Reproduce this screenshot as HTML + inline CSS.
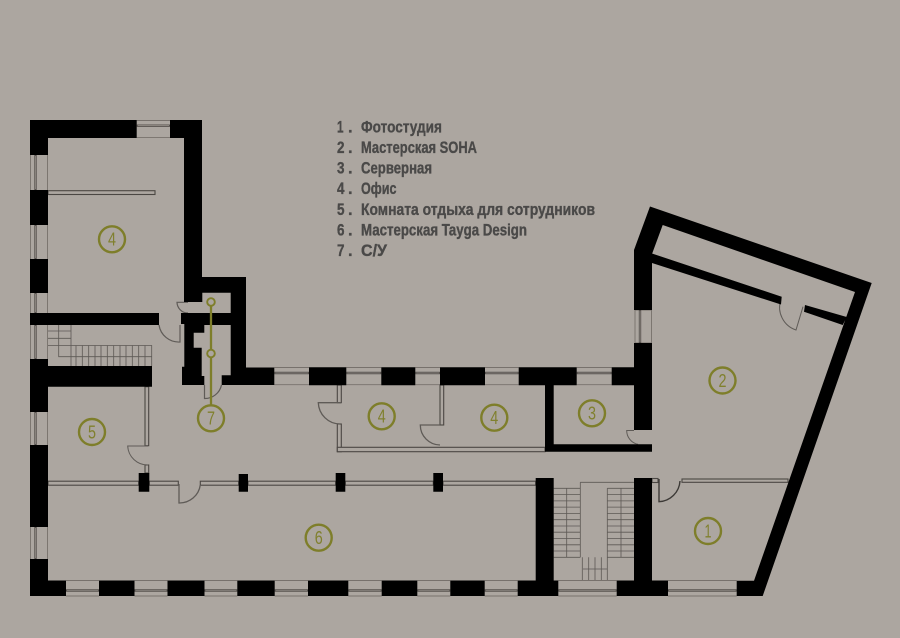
<!DOCTYPE html>
<html><head><meta charset="utf-8"><style>
html,body{margin:0;padding:0;background:#aca6a0;width:900px;height:638px;overflow:hidden}
svg{display:block}
.t{font-family:"Liberation Sans Narrow","Liberation Sans","Noto Sans CJK SC",sans-serif;font-weight:700;font-size:16.5px;fill:#4a4948;stroke:#4a4948;stroke-width:.35}
.n{font-family:"Liberation Sans",sans-serif;font-size:18px;fill:#80802e;text-anchor:middle}
</style></head><body>
<svg width="900" height="638" viewBox="0 0 900 638" xmlns="http://www.w3.org/2000/svg">
<rect width="900" height="638" fill="#aca6a0"/>

<!-- stairs -->
<path fill="none" stroke="#5c5854" stroke-width=".8" d="M48 331H71M48 338.3H71M48 345.5H151.7V366M71 325V366M58.7 325V356.7H151.7M76 345.5V366M82.3 345.5V366M88.7 345.5V366M95 345.5V366M101 345.5V366M107.3 345.5V366M113.7 345.5V366M120 345.5V366M126 345.5V366M132.3 345.5V366M138.7 345.5V366M145 345.5V366
M580.3 482.3H634M580.3 482.3V557.3M553.7 488.3H580.3M553.7 494.6H580.3M553.7 500.9H580.3M553.7 507.1H580.3M553.7 513.4H580.3M553.7 519.7H580.3M553.7 526H580.3M553.7 532.2H580.3M553.7 538.5H580.3M553.7 544.8H580.3M553.7 551H580.3M553.7 557.3H580.3
M607.3 488.3V557.3M607.3 488.3H634M607.3 494.6H634M607.3 500.9H634M607.3 507.1H634M607.3 513.4H634M607.3 519.7H634M607.3 526H634M607.3 532.2H634M607.3 538.5H634M607.3 544.8H634M607.3 551H634M607.3 557.3H634
M566.7 488.3V557.3M621 488.3V557.3M582.3 557.3V580.7M588.7 557.3V580.7M595 557.3V580.7M601.3 557.3V580.7M607.3 557.3V580.7M583 569H607"/>

<!-- windows: frame lines -->
<path fill="none" stroke="#77716c" stroke-width=".9" d="M66 580.5H99M66 596H99M134.5 580.5H167.5M134.5 596H167.5M204.5 580.5H237.3M204.5 596H237.3M274.7 580.5H308M274.7 596H308M348.3 580.5H381.7M348.3 596H381.7M417.3 580.5H450.3M417.3 596H450.3M484.7 580.5H517.7M484.7 596H517.7M558.3 580.5H616.7M558.3 596H616.7M668 580.5H736.7M668 596H736.7
M274.3 367.5H309M274.3 384.7H309M346.3 367.5H381.3M346.3 384.7H381.3M415.3 367.5H440M415.3 384.7H440M485 367.5H518.7M485 384.7H518.7M576.7 367.5H611.7M576.7 384.7H611.7
M136.7 120.5H170M136.7 137.6H170
M30.5 155V190M47.5 155V190M30.5 225V259M47.5 225V259M30.5 293V313M47.5 293V313M30.5 325V359M47.5 325V359M30.5 412V445M47.5 412V445M30.5 527V559M47.5 527V559
M635 310V343M651.5 310V343M635 310H651.5M635 343H651.5"/>
<!-- windows: glass -->
<path fill="none" stroke="#57524e" stroke-width="2.4" d="M66 590.5H99M134.5 590.5H167.5M204.5 590.5H237.3M274.7 590.5H308M348.3 590.5H381.7M417.3 590.5H450.3M484.7 590.5H517.7M558.3 590.5H616.7M668 590.5H736.7
M274.3 373H309M346.3 373H381.3M415.3 373H440M485 373H518.7M576.7 373H611.7M136.7 125.7H170
M35.5 155V190M35.5 225V259M35.5 293V313M35.5 325V359M35.5 412V445M35.5 527V559M640 310V343"/>
<path fill="none" stroke="#a8a29c" stroke-width=".6" d="M67 590.5H98M135.5 590.5H166.5M205.5 590.5H236.3M275.7 590.5H307M349.3 590.5H380.7M418.3 590.5H449.3M485.7 590.5H516.7M559.3 590.5H615.7M669 590.5H735.7
M275.3 373H308M347.3 373H380.3M416.3 373H439M486 373H517.7M577.7 373H610.7M137.7 125.7H169
M35.5 156V189M35.5 226V258M35.5 294V312M35.5 326V358M35.5 413V444M35.5 528V558M640 311V342"/>

<!-- partitions -->
<g fill="#aca6a0" stroke="#4b4743" stroke-width="1.1">
<rect x="48" y="190.7" width="107" height="3.8"/>
<rect x="48" y="481.2" width="90.7" height="4"/>
<rect x="149.3" y="481.2" width="29" height="4"/>
<rect x="200.3" y="481.2" width="38.4" height="4"/>
<rect x="248" y="481.2" width="87.7" height="4"/>
<rect x="345.3" y="481.2" width="88" height="4"/>
<rect x="443" y="481.2" width="92.7" height="4"/>
<rect x="145" y="386.7" width="3.7" height="59"/>
<rect x="145" y="465" width="3.7" height="8"/>
<rect x="337.3" y="385" width="4" height="17.7"/>
<rect x="337.3" y="424" width="4" height="27.7"/>
<rect x="337.3" y="447.3" width="207.7" height="4.4"/>
<rect x="440" y="385" width="3.7" height="40"/>
<rect x="682" y="479" width="106" height="3.3"/>
<rect x="652" y="478.5" width="6" height="4"/>
</g>
<rect x="338" y="448" width="206" height="3" fill="#aca6a0"/>

<!-- doors -->
<g fill="none" stroke="#5f5b57" stroke-width="1">
<path d="M148 446H127.7A20 20 0 0 0 148 465"/>
<path stroke-width="1.3" d="M179 484V503A21 21 0 0 0 200.3 485"/>
<path stroke-width="1.3" d="M341 402.7H318.3A22 22 0 0 0 340 424"/>
<path stroke-width="1.3" d="M440 425H420.3A20 20 0 0 0 440 445"/>
<path d="M634 430.5H626.7A14 14 0 0 0 638 444.3"/>
<path stroke-width="1.4" stroke="#3c3936" d="M659 479V501.7A22 22 0 0 0 680 481"/>
<path d="M803 306.7L796 330A24 24 0 0 1 780.7 300"/>
<path stroke-width="1.2" d="M188 302.3H177A11 11 0 0 0 188 313"/>
<path stroke-width="1.2" d="M180 325V342A20 20 0 0 1 159 325"/>
<path stroke-width="1.2" d="M204.5 385V398.5A17 17 0 0 0 221.5 385"/>
</g>

<!-- walls -->
<path fill="#000" d="M30 120H136.7V138H48V155H30Z
M170 120H202V277H246V367.5H274.3V385H221.7V375.3H230.7V325H204.3V332.7H193.7V347.7H201.7V376H204.3V385H182V366.7H184.3V324H181V313H230.7V292.7H202.3V302H184V138H170Z
M30 190H48V225H30ZM30 259H48V293H30ZM30 313H159V325H30Z
M30 359H48V366H152V386.7H48V412H30ZM30 445H48V527H30Z
M30 559H48V580.5H66V596H30Z
M99 580.5H134.5V596H99ZM167.5 580.5H204.5V596H167.5ZM237.3 580.5H274.7V596H237.3ZM308 580.5H348.3V596H308ZM381.7 580.5H417.3V596H381.7ZM450.3 580.5H484.7V596H450.3Z
M535.7 478H553.7V580.5H558.3V596H517.7V580.5H535.7Z
M634 478H652V580.5H668V596H616.7V580.5H634Z
M309 367.3H346.3V385.3H309ZM381.3 367.3H415.3V385.3H381.3ZM440 367.3H485V385.3H440Z
M518.7 367.3H576.7V385.3H553.7V444.3H652V451.7H545V385.3H518.7Z
M611.7 367.3H634V343H652V430H634V385.3H611.7Z
M650 206.5L871.7 283L762.7 596H736.7V580.7H754L855 292L662.7 225L652 254V310H634V250Z
M652 253.5L781.7 296.7L781 304.5L652 263Z
M805 305L846.7 317L842.7 325L804 311.7Z
M138.7 473H149.3V491.7H138.7ZM238.7 474H248V491.7H238.7ZM335.7 473H345.3V491.7H335.7ZM433.3 473H443V491.7H433.3Z"/>

<!-- WC marker -->
<g fill="none" stroke="#7e7e2a">
<path stroke-width="2.3" d="M211 306V349M211 357V405"/>
<circle cx="211" cy="302" r="3.8" stroke-width="1.9"/>
<circle cx="211" cy="353.5" r="3.8" stroke-width="1.9"/>
<g stroke-width="2.4">
<circle cx="112" cy="239.3" r="13"/>
<circle cx="92" cy="432" r="13"/>
<circle cx="211" cy="418.3" r="13"/>
<circle cx="381.7" cy="416.3" r="13"/>
<circle cx="494.3" cy="417.7" r="13"/>
<circle cx="592" cy="413.3" r="13"/>
<circle cx="722.5" cy="380.5" r="13"/>
<circle cx="708" cy="531" r="13"/>
<circle cx="318.7" cy="537.7" r="13"/>
</g></g>
<text class="n" x="108" y="245.5" textLength="8" lengthAdjust="spacingAndGlyphs" style="text-anchor:start">4</text>
<text class="n" x="88" y="438.5" textLength="8" lengthAdjust="spacingAndGlyphs" style="text-anchor:start">5</text>
<text class="n" x="207" y="424.5" textLength="8" lengthAdjust="spacingAndGlyphs" style="text-anchor:start">7</text>
<text class="n" x="377.7" y="422.5" textLength="8" lengthAdjust="spacingAndGlyphs" style="text-anchor:start">4</text>
<text class="n" x="490.3" y="424" textLength="8" lengthAdjust="spacingAndGlyphs" style="text-anchor:start">4</text>
<text class="n" x="588" y="419.5" textLength="8" lengthAdjust="spacingAndGlyphs" style="text-anchor:start">3</text>
<text class="n" x="718.5" y="387" textLength="8" lengthAdjust="spacingAndGlyphs" style="text-anchor:start">2</text>
<text class="n" x="704.5" y="537.5" textLength="7" lengthAdjust="spacingAndGlyphs" style="text-anchor:start">1</text>
<text class="n" x="314.7" y="544" textLength="8" lengthAdjust="spacingAndGlyphs" style="text-anchor:start">6</text>

<!-- legend -->
<text class="t" x="337" y="132.3" textLength="6.5" lengthAdjust="spacingAndGlyphs">1</text><text class="t" x="348" y="132.3">.</text>
<text class="t" x="337" y="153" textLength="7.5" lengthAdjust="spacingAndGlyphs">2</text><text class="t" x="348" y="153">.</text>
<text class="t" x="337" y="173.5" textLength="7.5" lengthAdjust="spacingAndGlyphs">3</text><text class="t" x="348" y="173.5">.</text>
<text class="t" x="337" y="194" textLength="7.5" lengthAdjust="spacingAndGlyphs">4</text><text class="t" x="348" y="194">.</text>
<text class="t" x="337" y="215" textLength="7.5" lengthAdjust="spacingAndGlyphs">5</text><text class="t" x="348" y="215">.</text>
<text class="t" x="337" y="235.5" textLength="7.5" lengthAdjust="spacingAndGlyphs">6</text><text class="t" x="348" y="235.5">.</text>
<text class="t" x="337" y="256" textLength="7.5" lengthAdjust="spacingAndGlyphs">7</text><text class="t" x="348" y="256">.</text>
<text class="t" x="361" y="132.3" textLength="81" lengthAdjust="spacingAndGlyphs">Фотостудия</text>
<text class="t" x="361" y="153" textLength="116" lengthAdjust="spacingAndGlyphs">Мастерская SOHA</text>
<text class="t" x="361" y="173.5" textLength="71" lengthAdjust="spacingAndGlyphs">Серверная</text>
<text class="t" x="361" y="194" textLength="35.5" lengthAdjust="spacingAndGlyphs">Офис</text>
<text class="t" x="361" y="215" textLength="234" lengthAdjust="spacingAndGlyphs">Комната отдыха для сотрудников</text>
<text class="t" x="361" y="235.5" textLength="166" lengthAdjust="spacingAndGlyphs">Мастерская Tayga Design</text>
<text class="t" x="361" y="256" textLength="26" lengthAdjust="spacingAndGlyphs">С/У</text>
</svg>
</body></html>
